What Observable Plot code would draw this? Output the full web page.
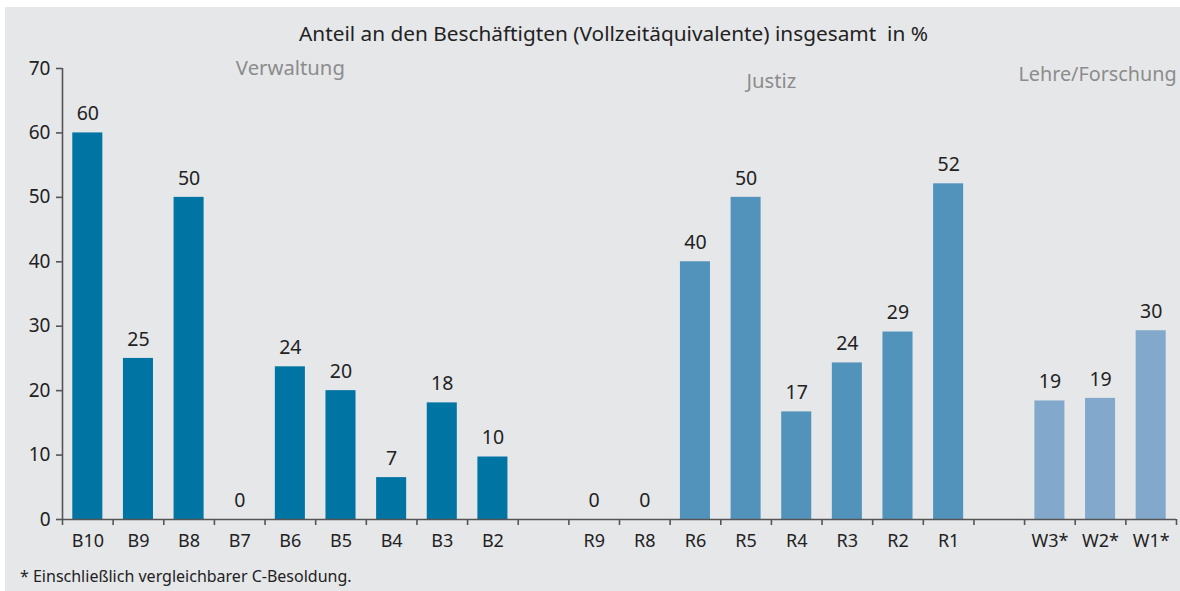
<!DOCTYPE html>
<html><head><meta charset="utf-8">
<script src="https://cdn.jsdelivr.net/npm/d3@7"></script>
<script src="https://cdn.jsdelivr.net/npm/@observablehq/plot@0.6"></script>
<style>
html,body{margin:0;padding:0;background:#fff;}
#box{position:absolute;left:5px;top:7px;width:1175px;height:584px;background:#e6e7e9;font-family:"Noto Sans",sans-serif;color:#222;overflow:hidden;}
#title{position:absolute;top:12px;left:0;width:1175px;text-align:center;padding-left:42px;box-sizing:border-box;font-size:20.8px;color:#222;white-space:nowrap;}
#chart{position:absolute;left:0;top:0;}
#note{position:absolute;left:15px;top:558px;font-size:16px;color:#222;white-space:nowrap;}
</style></head>
<body>
<div id="box">
  <div id="chart"></div>
  <div id="title">Anteil an den Beschäftigten (Vollzeitäquivalente) insgesamt&nbsp; in %</div>
  <div id="note">* Einschließlich vergleichbarer C-Besoldung.</div>
</div>
<script>
// ---- data ----
const groupNames = ["Verwaltung", "Justiz", "Lehre/Forschung"];
const groupLabelY = [70, 68, 69];
const groupColors = ["#0074a3", "#5293bc", "#82a9cb"];

const verwaltungCats = ["B10", "B9", "B8", "B7", "B6", "B5", "B4", "B3", "B2"];
const verwaltungValues = [60, 25, 50, 0, 23.7, 20, 6.5, 18.1, 9.7];
const verwaltungLabels = ["60", "25", "50", "0", "24", "20", "7", "18", "10"];

const justizCats = ["R9", "R8", "R6", "R5", "R4", "R3", "R2", "R1"];
const justizValues = [0, 0, 40, 50, 16.7, 24.3, 29.1, 52.1];
const justizLabels = ["0", "0", "40", "50", "17", "24", "29", "52"];

const lehreCats = ["W3*", "W2*", "W1*"];
const lehreValues = [18.4, 18.8, 29.3];
const lehreLabels = ["19", "19", "30"];

const yTicks = [0, 10, 20, 30, 40, 50, 60, 70];

// ---- build table (one empty slot between groups) ----
const groupsData = [
  [verwaltungCats, verwaltungValues, verwaltungLabels],
  [justizCats, justizValues, justizLabels],
  [lehreCats, lehreValues, lehreLabels]
];
const rows = [];
const groupInfo = [];
let pos = 0;
groupsData.forEach(([cats, vals, labs], g) => {
  const start = pos;
  cats.forEach((c, k) => {
    rows.push({i: pos, cat: c, value: vals[k], label: labs[k], group: groupNames[g], color: groupColors[g]});
    pos++;
  });
  groupInfo.push({name: groupNames[g], center: (start + pos) / 2, y: groupLabelY[g]});
  if (g < groupsData.length - 1) pos++;
});
const nSlots = pos;
const edges = d3.range(nSlots + 1);

const axisColor = "#555";
const font = "'Noto Sans', sans-serif";
const chart = Plot.plot({
  width: 1175,
  height: 552,
  marginLeft: 57,
  marginRight: 4,
  marginTop: 61,
  marginBottom: 40,
  style: {background: "transparent", fontFamily: font, fontSize: "18px", color: "#222", overflow: "visible"},
  x: {domain: [0, nSlots], axis: null},
  y: {domain: [0, 70], axis: null},
  marks: [
    Plot.rectY(rows, {x1: "i", x2: d => d.i + 1, y: "value", fill: "color", insetLeft: 10.3, insetRight: 10.3}),
    Plot.ruleX([0], {stroke: axisColor, strokeWidth: 1.6}),
    Plot.ruleY([0], {stroke: axisColor, strokeWidth: 1.6}),
    Plot.axisY({ticks: yTicks, tickSize: 6, tickPadding: 6, stroke: axisColor, strokeWidth: 1.6, fontSize: 19, fill: "#222", label: null}),
    Plot.axisX({ticks: edges, tickSize: 6, tickFormat: () => "", stroke: axisColor, strokeWidth: 1.6, label: null}),
    Plot.text(rows, {x: d => d.i + 0.5, y: 0, text: "cat", dy: 22, fontSize: 18, fill: "#222"}),
    Plot.text(rows, {x: d => d.i + 0.5, y: "value", text: "label", dy: -19, fontSize: 19.5, fill: "#222"}),
    Plot.text(groupInfo.slice(0, 2), {x: "center", y: "y", text: "name", fontSize: 20.3, fill: "#8c8c8c"}),
    Plot.text(groupInfo.slice(2), {x: "center", y: "y", text: "name", fontSize: 19.8, dx: -3, fill: "#8c8c8c"})
  ]
});
document.getElementById("chart").appendChild(chart);
</script>
</body></html>
